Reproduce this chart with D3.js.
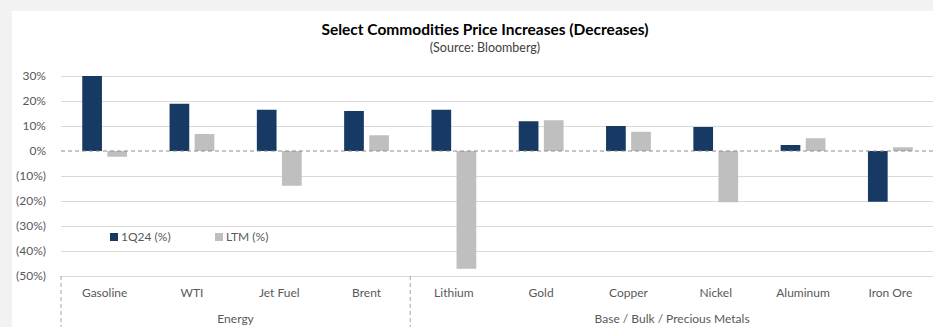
<!DOCTYPE html>
<meta charset="utf-8">
<head>
<script src="https://d3js.org/d3.v7.min.js"></script>
<style>
  html, body { margin: 0; padding: 0; background: #f2f2f2; }
  svg { display: block; font-family: Lato, "Open Sans", sans-serif; }
</style>
</head>
<body>
<div id="my_dataviz"></div>
<script>
  // data
  const categories = ["Gasoline", "WTI", "Jet Fuel", "Brent", "Lithium", "Gold", "Copper", "Nickel", "Aluminum", "Iron Ore"];
  const series = ["1Q24 (%)", "LTM (%)"];
  const q1Values = [0.30, 0.189, 0.165, 0.16, 0.165, 0.119, 0.10, 0.096, 0.024, -0.203];
  const ltmValues = [-0.023, 0.068, -0.139, 0.063, -0.471, 0.123, 0.077, -0.205, 0.051, 0.015];
  const groups = [
    {name: "Energy", from: 0, to: 4},
    {name: "Base / Bulk / Precious Metals", from: 4, to: 10}
  ];
  const yTicks = [0.3, 0.2, 0.1, 0, -0.1, -0.2, -0.3, -0.4, -0.5];
  const colors = ["#173a64", "#bfbfbf"];

  const W = 933, H = 327;
  const plotLeft = 61, plotRight = 934, plotTop = 76, plotBottom = 276;

  const svg = d3.select("#my_dataviz")
    .append("svg")
      .attr("width", W)
      .attr("height", H);

  // white chart panel
  svg.append("rect")
    .attr("x", 12).attr("y", 11)
    .attr("width", W - 12).attr("height", H - 11)
    .attr("fill", "#fff");

  // titles
  svg.append("text")
    .attr("x", 485).attr("y", 35)
    .attr("text-anchor", "middle")
    .attr("font-size", 15.5).attr("font-weight", "bold")
    .attr("fill", "#000")
    .text("Select Commodities Price Increases (Decreases)");
  svg.append("text")
    .attr("x", 485).attr("y", 52)
    .attr("text-anchor", "middle")
    .attr("font-size", 12.5)
    .attr("fill", "#404040")
    .text("(Source: Bloomberg)");

  const x0 = d3.scaleBand()
    .domain(categories)
    .range([plotLeft, plotRight]);

  const x1 = d3.scaleBand()
    .domain(series)
    .range([x0.bandwidth() / 2 - 22.4, x0.bandwidth() / 2 + 22.4])
    .paddingInner(0.215);

  const y = d3.scaleLinear()
    .domain([-0.5, 0.3])
    .range([plotBottom, plotTop]);

  const fmt = v => {
    const p = Math.round(Math.abs(v) * 100) + "%";
    return v < 0 ? "(" + p + ")" : p;
  };

  // gridlines + y labels
  const yAxis = svg.append("g")
    .attr("transform", `translate(${plotLeft},0)`)
    .call(d3.axisLeft(y).tickValues(yTicks).tickFormat(fmt).tickSize(-(plotRight - plotLeft)).tickPadding(15));
  yAxis.select(".domain").remove();
  yAxis.selectAll(".tick line")
    .attr("stroke", d => d === 0 ? "none" : "#d9d9d9");
  yAxis.selectAll(".tick text")
    .attr("font-size", 12)
    .attr("font-family", "Lato, 'Open Sans', sans-serif")
    .attr("fill", "#595959");

  // bars
  const rows = categories.map((c, i) => ({cat: c, vals: [q1Values[i], ltmValues[i]]}));
  svg.append("g")
    .selectAll("g")
    .data(rows)
    .join("g")
      .attr("transform", d => `translate(${x0(d.cat)},0)`)
    .selectAll("rect")
    .data(d => d.vals.map((v, j) => ({s: series[j], v, j})))
    .join("rect")
      .attr("x", d => x1(d.s))
      .attr("width", x1.bandwidth())
      .attr("y", d => y(Math.max(0, d.v)))
      .attr("height", d => Math.abs(y(d.v) - y(0)))
      .attr("fill", d => colors[d.j]);

  // zero line dashed
  svg.append("line")
    .attr("x1", plotLeft).attr("x2", plotRight)
    .attr("y1", y(0)).attr("y2", y(0))
    .attr("stroke", "#8c8c8c")
    .attr("stroke-dasharray", "4,3");

  // category labels
  svg.append("g")
    .selectAll("text")
    .data(categories)
    .join("text")
      .attr("x", d => x0(d) + x0.bandwidth() / 2)
      .attr("y", 297)
      .attr("text-anchor", "middle")
      .attr("font-size", 12)
      .attr("fill", "#595959")
      .text(d => d);

  // group separators and labels
  const step = x0.step();
  const seps = [0].concat(groups.map(g => g.to));
  svg.append("g")
    .selectAll("line")
    .data(seps)
    .join("line")
      .attr("x1", d => plotLeft + d * step).attr("x2", d => plotLeft + d * step)
      .attr("y1", plotBottom).attr("y2", H)
      .attr("stroke", "#a6a6a6")
      .attr("stroke-dasharray", "4,3");
  svg.append("g")
    .selectAll("text")
    .data(groups)
    .join("text")
      .attr("x", d => plotLeft + (d.from + d.to) / 2 * step)
      .attr("y", 323)
      .attr("text-anchor", "middle")
      .attr("font-size", 12)
      .attr("fill", "#595959")
      .text(d => d.name);

  // legend
  const legendX = [110, 215];
  const legend = svg.append("g")
    .selectAll("g")
    .data(series)
    .join("g")
      .attr("transform", (d, i) => `translate(${legendX[i]},233)`);
  legend.append("rect")
    .attr("width", 8).attr("height", 8)
    .attr("fill", (d, i) => colors[i]);
  legend.append("text")
    .attr("x", 11).attr("y", 8)
    .attr("font-size", 12)
    .attr("fill", "#595959")
    .text(d => d);
</script>
</body>
